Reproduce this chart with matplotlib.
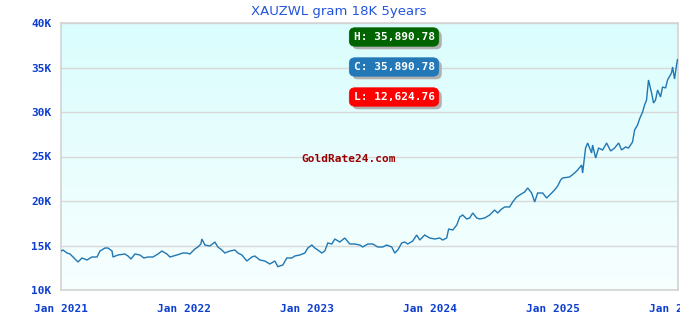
import numpy as np
import matplotlib
matplotlib.use("Agg")
import matplotlib.pyplot as plt
from matplotlib import patheffects as pe

# ---- data (decimal years since Jan 2021, price per gram 18K in ZWL) ----
base_year = 2021
t_years = [0.000, 0.016, 0.049, 0.073, 0.098, 0.138, 0.171, 0.211, 0.252, 0.293,
           0.317, 0.358, 0.382, 0.415, 0.423, 0.463, 0.520, 0.545, 0.569, 0.602,
           0.642, 0.675, 0.707, 0.748, 0.789, 0.821, 0.862, 0.886, 0.943, 0.992,
           1.024, 1.049, 1.089, 1.114, 1.138, 1.146, 1.171, 1.211, 1.252, 1.276,
           1.309, 1.333, 1.374, 1.415, 1.439, 1.472, 1.512, 1.553, 1.577, 1.618,
           1.659, 1.699, 1.740, 1.764, 1.805, 1.837, 1.878, 1.902, 1.943, 1.984,
           2.008, 2.041, 2.065, 2.089, 2.122, 2.146, 2.171, 2.203, 2.228, 2.268,
           2.309, 2.350, 2.390, 2.431, 2.455, 2.496, 2.537, 2.577, 2.618, 2.650,
           2.691, 2.715, 2.740, 2.772, 2.797, 2.821, 2.862, 2.894, 2.919, 2.959,
           3.000, 3.041, 3.081, 3.106, 3.138, 3.154, 3.187, 3.220, 3.244, 3.268,
           3.301, 3.325, 3.350, 3.382, 3.407, 3.447, 3.488, 3.528, 3.553, 3.585,
           3.610, 3.650, 3.675, 3.707, 3.732, 3.772, 3.797, 3.829, 3.854, 3.878,
           3.919, 3.951, 3.976, 4.016, 4.041, 4.065, 4.081, 4.138, 4.179, 4.203,
           4.236, 4.244, 4.268, 4.285, 4.317, 4.325, 4.350, 4.374, 4.407, 4.439,
           4.472, 4.504, 4.537, 4.561, 4.593, 4.618, 4.650, 4.667, 4.691, 4.707,
           4.732, 4.748, 4.764, 4.780, 4.805, 4.821, 4.837, 4.854, 4.878, 4.894,
           4.919, 4.935, 4.967, 4.976, 4.992, 5.000, 5.008, 5.016]
prices = [14373, 14494, 14157, 14045, 13708, 13146, 13596, 13371, 13708, 13708,
          14382, 14719, 14719, 14382, 13708, 13933, 14045, 13820, 13483, 14045,
          13933, 13596, 13708, 13708, 14045, 14382, 14045, 13708, 13933, 14157,
          14157, 14045, 14607, 14832, 15169, 15730, 15056, 14944, 15393, 14832,
          14494, 14157, 14382, 14494, 14157, 13933, 13258, 13708, 13820, 13371,
          13258, 12921, 13258, 12624.76, 12809, 13596, 13596, 13820, 13933, 14157,
          14719, 15056, 14719, 14494, 14157, 14382, 15281, 15169, 15730, 15393,
          15843, 15169, 15169, 15056, 14832, 15169, 15169, 14832, 14832, 15056,
          14832, 14157, 14494, 15281, 15393, 15169, 15506, 16180, 15618, 16180,
          15843, 15730, 15843, 15618, 15843, 16854, 16742, 17303, 18202, 18427,
          17978, 18090, 18652, 18090, 17978, 18090, 18427, 18989, 18652, 19101,
          19326, 19326, 19888, 20449, 20674, 21011, 21461, 20899, 19888, 20899,
          20899, 20337, 20674, 21236, 21685, 22360, 22584, 22697, 23146, 23483,
          24045, 23146, 25955, 26517, 25393, 26292, 24831, 25955, 25730, 26517,
          25618, 25955, 26517, 25730, 26067, 25955, 26629, 27978, 28539, 29213,
          30000, 30786, 31348, 33595, 32135, 31011, 31348, 32472, 31685, 32809,
          32697, 33595, 34382, 35056, 33708, 34494, 35281, 35890.78]

y_ticks = [10000, 15000, 20000, 25000, 30000, 35000, 40000]
y_tick_labels = ["10K", "15K", "20K", "25K", "30K", "35K", "40K"]
x_ticks = [2021, 2022, 2023, 2024, 2025, 2026]
x_tick_labels = ["Jan 2021", "Jan 2022", "Jan 2023", "Jan 2024", "Jan 2025", "Jan 2026"]

title = "XAUZWL gram 18K 5years"
high_label = "H: 35,890.78"
close_label = "C: 35,890.78"
low_label = "L: 12,624.76"
watermark = "GoldRate24.com"

# ---- figure ----
W, H = 680, 320
fig = plt.figure(figsize=(W / 100, H / 100), dpi=100)
fig.patch.set_facecolor("white")
ax_l, ax_r, ax_t, ax_b = 61, 678, 23, 290
ax = fig.add_axes([ax_l / W, 1 - ax_b / H, (ax_r - ax_l) / W, (ax_b - ax_t) / H])

# gradient background
grad = np.linspace(0, 1, 256).reshape(-1, 1)
top = np.array([0.855, 0.992, 0.992])
bot = np.array([0.970, 1.000, 1.000])
img = top[None, None, :] * (1 - grad[:, :, None]) + bot[None, None, :] * grad[:, :, None]
ax.imshow(img, extent=[0, 1, 0, 1], transform=ax.transAxes, aspect="auto", zorder=0)

xs = [base_year + t for t in t_years]
ax.plot(xs, prices, color="#1f77b4", lw=1.0, zorder=3, solid_joinstyle="miter")

ax.set_xlim(2021, 2026.02)
ax.set_ylim(10000, 40000)
ax.set_yticks(y_ticks)
ax.set_xticks(x_ticks)

tick_font = dict(family="DejaVu Sans Mono", weight="bold", size=8)
ax.set_yticklabels(y_tick_labels, color="#0d3fcf", **tick_font)
ax.set_xticklabels(x_tick_labels, color="#0d3fcf", **tick_font)
ax.tick_params(axis="both", length=0)
ax.tick_params(axis="y", pad=7)
ax.tick_params(axis="x", pad=10)

ax.grid(axis="y", color="#d8d8d8", lw=1.0, zorder=1)
ax.set_axisbelow(True)
for s in ax.spines.values():
    s.set_color("#d3d3d3")
    s.set_linewidth(1.2)

fig.text(0.4975, 1 - 11.5 / H, title, ha="center", va="center",
         color="#2255dd", fontsize=9.5, family="DejaVu Sans")

# H / C / L boxes
box_font = dict(family="DejaVu Sans Mono", weight="bold", size=8)
cx = 394 / W
for label, yc, col in [(high_label, 37, "#006400"),
                       (close_label, 67, "#2378b8"),
                       (low_label, 97, "#ff0000")]:
    t = fig.text(cx, 1 - yc / H, label, ha="center", va="center", color="white",
                 bbox=dict(boxstyle="round,pad=0.38,rounding_size=0.5",
                           fc=col, ec=col, lw=0.5), **box_font)
    t.get_bbox_patch().set_path_effects([
        pe.SimplePatchShadow(offset=(2.2, -2.2), shadow_rgbFace="#b0b0b0", alpha=1.0),
        pe.Normal()])

fig.text(348.5 / W, 1 - 158.5 / H, watermark, ha="center", va="center",
         color="#9b0000", **box_font)

fig.savefig("out.png", dpi=100)
